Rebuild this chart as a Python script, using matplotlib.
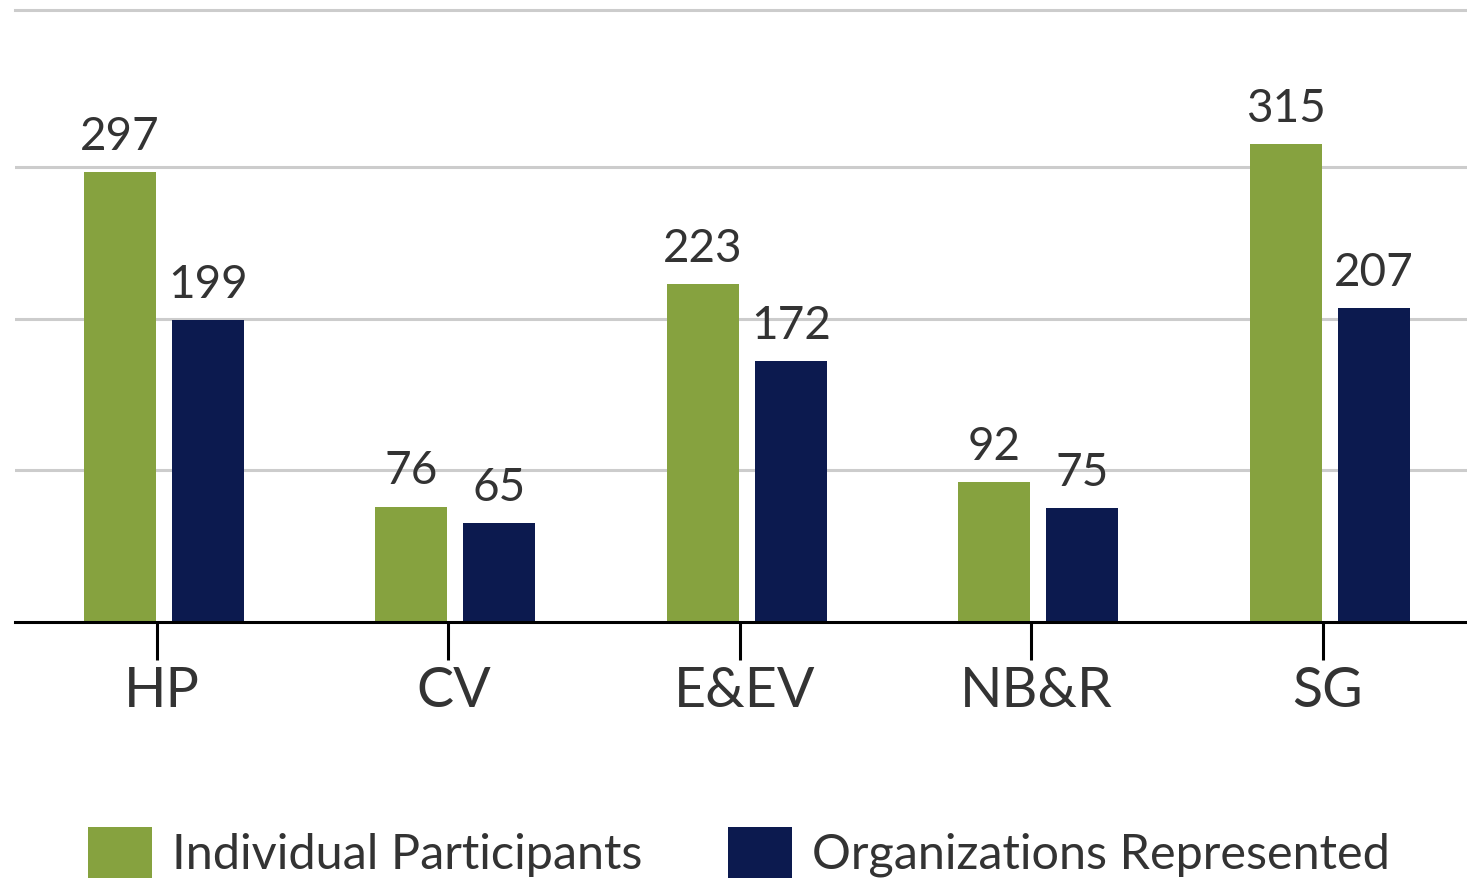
import matplotlib
matplotlib.use("Agg")
import matplotlib.pyplot as plt
from matplotlib.patches import Rectangle
import matplotlib.transforms as mtransforms
import numpy as np

categories = ["HP", "CV", "E&EV", "NB&R", "SG"]
individual = [297, 76, 223, 92, 315]
organizations = [199, 65, 172, 75, 207]
series_names = ["Individual Participants", "Organizations Represented"]
colors = ["#86a23f", "#0c1a4f"]
gridlines = [100, 200, 300]

plt.rcParams['font.family'] = ['Lato', 'DejaVu Sans']
W, H = 1467, 879
base_y = 622.7
top_y = 11
scale = 1.515
unit = 291.5
fig = plt.figure(figsize=(W / 100, H / 100), dpi=100)
ax = fig.add_axes([15 / W, (H - base_y) / H, 1 - 15 / W, (base_y - top_y) / H])

x = np.arange(len(categories))
bw = 72 / unit
off = 44 / unit
ax.set_xlim(-(164 - 15) / unit, (1467 - 164) / unit)
ax.set_ylim(0, (base_y - top_y) / scale)

for g in gridlines:
    ax.axhline(g, color="#cccccc", lw=2.2, zorder=0)

ax.bar(x - off, individual, bw, color=colors[0], zorder=2)
ax.bar(x + off, organizations, bw, color=colors[1], zorder=2)

for xi, v in zip(x - off, individual):
    ax.text(xi, v + 10, str(v), ha="center", va="bottom", fontsize=33, color="#333333")
for xi, v in zip(x + off, organizations):
    ax.text(xi, v + 10, str(v), ha="center", va="bottom", fontsize=33, color="#333333")

for s in ["left", "right"]:
    ax.spines[s].set_visible(False)
ax.spines["top"].set_color("#cccccc")
ax.spines["top"].set_linewidth(2.2)
ax.spines["bottom"].set_linewidth(2.2)
ax.spines["bottom"].set_color("black")
ax.set_yticks([])
ax.set_xticks(x - 7 / unit)
ax.set_xticklabels(categories, fontsize=40, color="#333333")
ax.tick_params(axis="x", length=27, width=2.2, pad=4, color="black")
shift = mtransforms.ScaledTranslation(5 / 100, 0, fig.dpi_scale_trans)
for lbl in ax.get_xticklabels():
    lbl.set_transform(lbl.get_transform() + shift)

# legend
leg_items = [(88, 172), (728, 812)]
for (sx, tx), name, c in zip(leg_items, series_names, colors):
    fig.add_artist(Rectangle((sx / W, 0), 64 / W, 51 / H, transform=fig.transFigure,
                             color=c, lw=0))
    fig.text(tx / W, (H - 869) / H, name, fontsize=35, color="#333333",
             ha="left", va="baseline")

fig.savefig("out.png", dpi=100, facecolor="white")
